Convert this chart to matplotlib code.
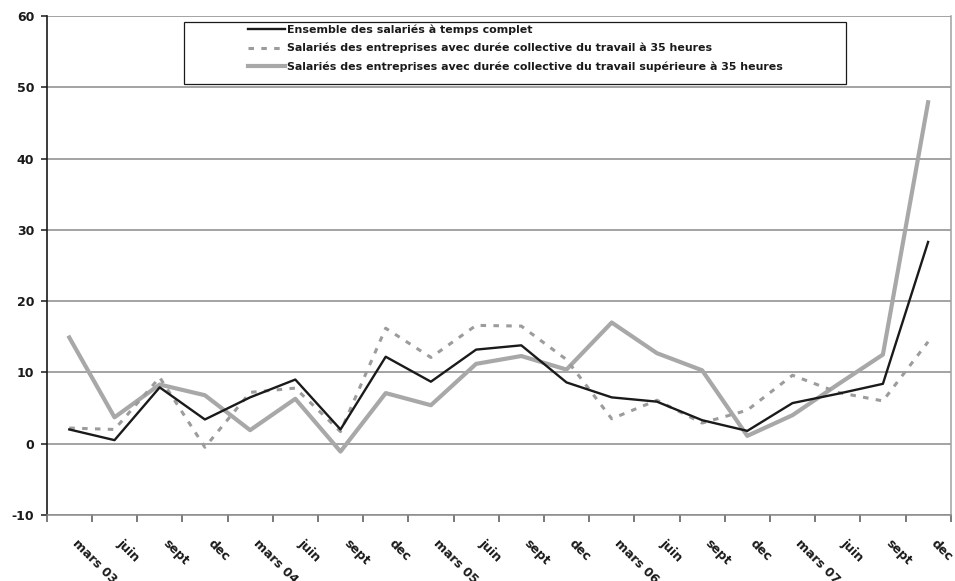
import matplotlib
matplotlib.use("Agg")
import matplotlib.pyplot as plt
from matplotlib.patches import Rectangle
import numpy as np

# Quarter labels
quarters = ["mars 03", "juin", "sept", "dec",
            "mars 04", "juin", "sept", "dec",
            "mars 05", "juin", "sept", "dec",
            "mars 06", "juin", "sept", "dec",
            "mars 07", "juin", "sept", "dec"]

# Series values
ensemble = [2.0, 0.5, 7.9, 3.4, 6.5, 9.0, 2.0, 12.2, 8.7, 13.2,
            13.8, 8.6, 6.5, 5.9, 3.3, 1.8, 5.7, 7.0, 8.4, 28.3]
dc_35h = [2.2, 2.0, 9.3, -0.5, 7.2, 7.8, 1.7, 16.2, 12.1, 16.6,
          16.5, 11.8, 3.5, 6.1, 2.9, 4.7, 9.6, 7.2, 6.0, 14.3]
dc_sup35h = [14.9, 3.7, 8.3, 6.8, 1.9, 6.3, -1.1, 7.1, 5.4, 11.2,
             12.3, 10.4, 17.0, 12.7, 10.3, 1.1, 4.0, 8.3, 12.5, 47.9]

series_labels = [
    "Ensemble des salariés à temps complet",
    "Salariés des entreprises avec durée collective du travail à 35 heures",
    "Salariés des entreprises avec durée collective du travail supérieure à 35 heures",
]
y_ticks = [-10, 0, 10, 20, 30, 40, 50, 60]

plt.rcParams["font.family"] = ["DejaVu Sans"]

fig = plt.figure(figsize=(9.55, 5.81), dpi=100)
ax = fig.add_axes([0.0489, 0.1136, 0.9466, 0.8589])

x = np.arange(len(quarters))
grid_col = "#8a8a8a"

for yv in y_ticks:
    ax.axhline(yv, color=grid_col, lw=1.1, zorder=1)

l1, = ax.plot(x, ensemble, color="#1a1a1a", lw=1.7, zorder=4,
              label=series_labels[0])
l2, = ax.plot(x, dc_35h, color="#9c9c9c", lw=2.2, zorder=3,
              dashes=(1.8, 2.4), label=series_labels[1])
l3, = ax.plot(x, dc_sup35h, color="#a8a8a8", lw=3.0, zorder=2,
              label=series_labels[2])

ax.set_xlim(-0.5, len(quarters) - 0.5)
ax.set_ylim(-10, 60)

# Category boundaries carry the tick marks; labels sit just right of centre
ax.set_xticks(np.arange(len(quarters) + 1) - 0.5)
ax.set_xticklabels([])
ax.set_xticks(x + 0.11, minor=True)
ax.set_xticklabels(quarters, minor=True, rotation=-45, ha="left",
                   va="center", rotation_mode="anchor",
                   fontsize=9, fontweight="bold", color="#1a1a1a")
ax.tick_params(axis="x", which="major", length=5, width=1.1,
               color="#555555", direction="out")
ax.tick_params(axis="x", which="minor", length=0, pad=19)

ax.set_yticks(y_ticks)
ax.set_yticklabels([str(v) for v in y_ticks], fontsize=9,
                   fontweight="bold", color="#1a1a1a")
ax.tick_params(axis="y", length=4, width=1.1, color="#1a1a1a", pad=5)

ax.spines["left"].set_color("#1a1a1a")
ax.spines["left"].set_linewidth(1.2)
ax.spines["bottom"].set_color(grid_col)
ax.spines["bottom"].set_linewidth(1.1)
ax.spines["right"].set_color("#a0a0a0")
ax.spines["right"].set_linewidth(1.1)
ax.spines["top"].set_visible(False)

# Legend box with centred entries
fig.patches.append(Rectangle((0.1927, 0.8554), 0.6932, 0.1072,
                             transform=fig.transFigure, facecolor="white",
                             edgecolor="#1a1a1a", lw=0.9, zorder=5))
leg = fig.legend(handles=[l1, l2, l3], loc="center",
                 bbox_to_anchor=(0.5393, 0.917), frameon=False,
                 prop={"size": 7.9, "weight": "bold"},
                 handlelength=3.45, handletextpad=0.1, labelspacing=0.72,
                 borderpad=0.2)
leg.set_zorder(6)
for t in leg.get_texts():
    t.set_color("#1a1a1a")

fig.savefig("out.png", dpi=100, facecolor="white")
